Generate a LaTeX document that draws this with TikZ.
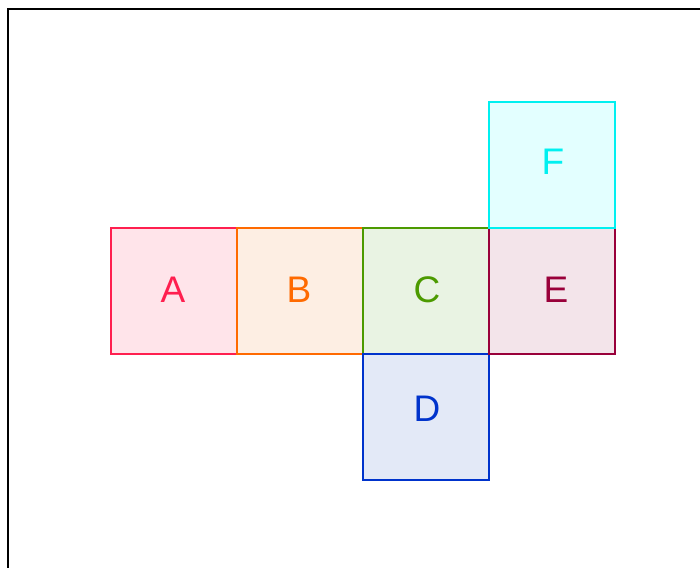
\documentclass[tikz,border=0pt]{standalone}
\usepackage{fontspec}
\setmainfont{Liberation Sans}
\definecolor{cA}{HTML}{FF1F4F}\definecolor{fA}{HTML}{FFE4EA}
\definecolor{cB}{HTML}{FF6A00}\definecolor{fB}{HTML}{FDEEE3}
\definecolor{cC}{HTML}{4C9A00}\definecolor{fC}{HTML}{E9F3E3}
\definecolor{cD}{HTML}{0033CC}\definecolor{fD}{HTML}{E3E9F7}
\definecolor{cE}{HTML}{99003A}\definecolor{fE}{HTML}{F3E4EA}
\definecolor{cF}{HTML}{00F0F0}\definecolor{fF}{HTML}{E3FFFF}
\begin{document}
\begin{tikzpicture}[x=1pt,y=-1pt,
  face/.style={draw=c#1, fill=f#1, line width=2.6pt, minimum size=126pt, inner sep=0pt},
  lbl/.style={text=c#1, font=\fontsize{37}{37}\selectfont},
  frame/.style={line width=2.4pt, black}]
\useasboundingbox (0,0) rectangle (700,567);
\draw[frame] (8,575) -- (8,9) -- (710,9);
\node[face=A, line width=1.4pt] (A) at (174,291) {};
\node[face=B] (B) at (300,291) {};
\node[face=C] (C) at (426,291) {};
\node[face=D] (D) at (426,417) {};
\node[face=E] (E) at (552,291) {};
\node[face=F] (F) at (552,165) {};
\node[lbl=A] (lA) at (173,290) {A};
\node[lbl=B] (lB) at (299,290) {B};
\node[lbl=C] (lC) at (427,290) {C};
\node[lbl=D] (lD) at (427,409) {D};
\node[lbl=E] (lE) at (556,290) {E};
\node[lbl=F] (lF) at (553,162) {F};
\end{tikzpicture}
\end{document}
